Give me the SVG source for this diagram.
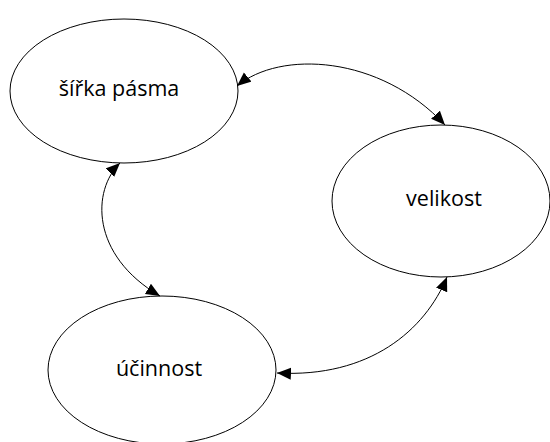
<svg xmlns="http://www.w3.org/2000/svg" width="550" height="442" viewBox="0 0 550 442">
<style>
.node ellipse{fill:#fff;stroke:#000;stroke-width:1}
.node text{font-family:"Open Sans","DejaVu Sans",sans-serif;font-size:21.5px;fill:#000;text-anchor:middle}
.edge{fill:none;stroke:#000;stroke-width:1;marker-start:url(#ah);marker-end:url(#ah)}
</style>
<defs>
<marker id="ah" markerUnits="userSpaceOnUse" markerWidth="16" markerHeight="14" refX="14" refY="6" orient="auto-start-reverse">
<path d="M0,0 L14,6 L0,12 z" fill="#000"/>
</marker>
</defs>
<rect width="550" height="442" fill="#fff"/>
<g id="nodes">
<g id="sirka" class="node"><ellipse cx="124" cy="91" rx="114" ry="72"/><text x="119" y="96">šířka pásma</text></g>
<g id="velikost" class="node"><ellipse cx="441" cy="201" rx="109" ry="76"/><text x="444" y="206">velikost</text></g>
<g id="ucinnost" class="node"><ellipse cx="162" cy="370" rx="114" ry="74"/><text x="159" y="376">účinnost</text></g>
</g>
<g id="connectors">
<path class="edge" d="M237,86 C280,50 380,55 445,125"/>
<path class="edge" d="M120,163 C92,190 90,255 160,296"/>
<path class="edge" d="M447,277 C425,330 370,378 277,373"/>
</g>
</svg>
